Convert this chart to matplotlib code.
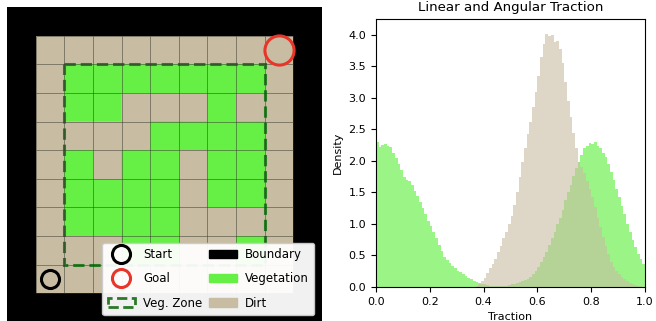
import numpy as np
import matplotlib
matplotlib.use("Agg")
import matplotlib.pyplot as plt
import matplotlib.patches as mpatches
from matplotlib.colors import ListedColormap
from matplotlib.lines import Line2D

plt.rcParams["font.size"] = 8

# map layout: B = boundary, V = vegetation, D = dirt (interior 9x9, boundary added below)
interior_rows = [
    "DDDDDDDDD",
    "DVVVVVVVD",
    "DVVDDDVDD",
    "DDDDVVVVD",
    "DVDVVDVVD",
    "DVVVVDVVD",
    "DVVVVDDDD",
    "DDDVVDDVD",
    "DDDDDDDDD",
]
start_cell = (9, 1)   # (row, col) in the full map
goal_cell = (1, 9)
veg_zone = (2, 8)     # first and last row/col of the vegetation zone

# traction histograms, density per bin of width 0.01 on [0, 1]
veg_density = [
    2.30, 2.22, 2.25, 2.26, 2.24, 2.22, 2.12, 2.05, 1.95, 1.85,
    1.75, 1.70, 1.68, 1.62, 1.53, 1.45, 1.35, 1.25, 1.15, 1.05,
    0.96, 0.87, 0.77, 0.67, 0.57, 0.48, 0.43, 0.38, 0.34, 0.30,
    0.26, 0.23, 0.20, 0.17, 0.14, 0.12, 0.10, 0.08, 0.06, 0.05,
    0.04, 0.03, 0.02, 0.02, 0.015, 0.01, 0.01, 0.015, 0.02, 0.03,
    0.04, 0.05, 0.06, 0.08, 0.09, 0.11, 0.13, 0.16, 0.20, 0.26,
    0.32, 0.39, 0.47, 0.56, 0.66, 0.77, 0.88, 1.00, 1.10, 1.22,
    1.38, 1.50, 1.62, 1.76, 1.88, 1.98, 2.10, 2.20, 2.24, 2.29,
    2.26, 2.30, 2.24, 2.20, 2.12, 2.06, 1.95, 1.83, 1.70, 1.55,
    1.42, 1.28, 1.15, 1.00, 0.88, 0.75, 0.63, 0.52, 0.44, 0.36,
]
dirt_density = [
    0, 0, 0, 0, 0, 0, 0, 0, 0, 0,
    0, 0, 0, 0, 0, 0, 0, 0, 0, 0,
    0, 0, 0, 0, 0, 0, 0, 0, 0, 0,
    0, 0, 0, 0, 0, 0, 0, 0.02, 0.05, 0.10,
    0.15, 0.22, 0.30, 0.37, 0.45, 0.55, 0.65, 0.77, 0.88, 1.00,
    1.12, 1.30, 1.50, 1.75, 1.98, 2.20, 2.42, 2.62, 2.85, 3.10,
    3.35, 3.65, 3.85, 4.02, 3.98, 4.00, 3.88, 3.90, 3.78, 3.55,
    3.25, 2.95, 2.70, 2.45, 2.20, 1.98, 1.90, 1.80, 1.68, 1.55,
    1.43, 1.27, 1.10, 0.95, 0.80, 0.65, 0.52, 0.40, 0.32, 0.25,
    0.20, 0.16, 0.13, 0.10, 0.07, 0.05, 0.03, 0.02, 0.01, 0.005,
]

dirt_color = "#c8bda3"
veg_color = "#66f046"
boundary_color = "black"
zone_color = "#2b7a26"

# build the full map with a one-cell boundary ring
codes = {"B": 0, "V": 1, "D": 2}
n = len(interior_rows) + 2
grid = np.zeros((n, n), dtype=int)
for r, row in enumerate(interior_rows):
    for c, ch in enumerate(row):
        grid[r + 1, c + 1] = codes[ch]

fig = plt.figure(figsize=(6.56, 3.21), dpi=100)

ax = fig.add_axes([7 / 656, -1 / 321, 315 / 656, 315 / 321])
cmap = ListedColormap([boundary_color, veg_color, dirt_color])
ax.imshow(grid, cmap=cmap, vmin=0, vmax=2, aspect="auto", interpolation="nearest")
# cell borders over the interior only
inner = np.arange(1, n) - 0.5
ax.hlines(inner, 0.5, n - 1.5, colors="#3a3a30", lw=0.6, alpha=0.6)
ax.vlines(inner, 0.5, n - 1.5, colors="#3a3a30", lw=0.6, alpha=0.6)
z0, z1 = veg_zone
ax.add_patch(mpatches.Rectangle((z0 - 0.5, z0 - 0.5), z1 - z0 + 1, z1 - z0 + 1,
                                fill=False, edgecolor=zone_color, lw=2.2, ls="--"))
ax.plot(start_cell[1], start_cell[0], "o", ms=13, mfc="none", mec="black", mew=2.2)
ax.plot(goal_cell[1], goal_cell[0], "o", ms=21, mfc="none", mec="#e8352a", mew=2.2)
ax.set_xlim(-0.5, n - 0.5)
ax.set_ylim(n - 0.5, -0.5)
ax.axis("off")

handles = [
    Line2D([], [], ls="none", marker="o", ms=13, mfc="none", mec="black", mew=2.2, label="Start"),
    Line2D([], [], ls="none", marker="o", ms=13, mfc="none", mec="#e8352a", mew=2.2, label="Goal"),
    mpatches.Patch(facecolor="none", edgecolor=zone_color, lw=2.0, ls="--", label="Veg. Zone"),
    mpatches.Patch(color=boundary_color, label="Boundary"),
    mpatches.Patch(color=veg_color, label="Vegetation"),
    mpatches.Patch(color=dirt_color, label="Dirt"),
]
fig.legend(handles=handles, ncol=2, loc="lower right", bbox_to_anchor=(314 / 656, 6 / 321),
           borderaxespad=0, fontsize=8.5, handlelength=2.3, columnspacing=0.6,
           handletextpad=0.7, borderpad=0.45, labelspacing=0.95, framealpha=0.95)

# traction histograms
ax2 = fig.add_axes([376 / 656, 34 / 321, 269 / 656, 268 / 321])
bin_edges = np.linspace(0, 1, len(veg_density) + 1)
ax2.stairs(veg_density, bin_edges, fill=True, color=veg_color, alpha=0.65, lw=0)
ax2.stairs(dirt_density, bin_edges, fill=True, color=dirt_color, alpha=0.6, lw=0)
ax2.set_xlim(0, 1)
ax2.set_ylim(0, 4.25)
ax2.set_title("Linear and Angular Traction")
ax2.set_xlabel("Traction")
ax2.set_ylabel("Density")

fig.savefig("out.png", dpi=100)
